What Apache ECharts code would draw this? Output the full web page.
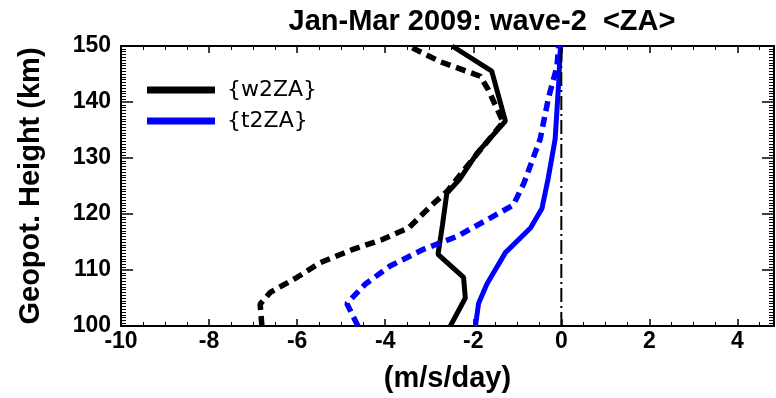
<!DOCTYPE html>
<html>
<head>
<meta charset="utf-8">
<script src="https://cdn.jsdelivr.net/npm/echarts@6/dist/echarts.min.js"></script>
<style>
  html, body { margin: 0; padding: 0; background: #fff; }
  #main { width: 776px; height: 398px; }
</style>
</head>
<body>
<div id="main"></div>
<script>
// 数据
var w2zaHeight = [100, 105, 108.7, 112.8, 118, 123.7, 126.3, 131, 136.6, 145.5, 150];
var w2zaValue  = [-2.52, -2.18, -2.22, -2.8, -2.7, -2.6, -2.3, -1.9, -1.27, -1.58, -2.48];

var w2zaDashHeight = [100, 103.9, 106, 108.7, 111.3, 113.7, 115.4, 117.5, 121.9, 124, 129.9, 136.4, 142.2, 144.6, 147.2, 150];
var w2zaDashValue  = [-6.8, -6.84, -6.61, -6.0, -5.48, -4.73, -4.08, -3.47, -2.9, -2.6, -2.0, -1.32, -1.66, -1.84, -2.75, -3.47];

var t2zaHeight = [100, 104, 107.5, 113.1, 117.5, 121, 126.3, 133.4, 143.4, 150];
var t2zaValue  = [-1.95, -1.88, -1.69, -1.27, -0.7, -0.44, -0.3, -0.14, -0.06, -0.02];

var t2zaDashHeight = [100, 104, 107.5, 110.7, 113.7, 116, 119.3, 121.6, 125.5, 133.4, 140.8, 146.3, 150];
var t2zaDashValue  = [-4.62, -4.87, -4.45, -3.89, -3.13, -2.37, -1.61, -1.09, -0.85, -0.48, -0.29, -0.1, -0.06];

var zeroLineValue  = [0, 0];
var zeroLineHeight = [100, 150];

var xTicks = { min: -10, max: 4.83, interval: 2 };
var yTicks = { min: 100, max: 150, interval: 10 };

function pairs(xs, ys) {
    var out = [];
    for (var i = 0; i < xs.length; i++) {
        out.push([xs[i], ys[i]]);
    }
    return out;
}

var myChart = echarts.init(document.getElementById('main'));
var font = 'Liberation Sans';

function xAxisOf(pos, showLabel) {
    return {
        type: 'value',
        position: pos,
        min: xTicks.min,
        max: xTicks.max,
        interval: xTicks.interval,
        axisLine: { show: true, onZero: false, lineStyle: { color: '#000', width: 2 } },
        axisTick: { show: true, inside: true, length: 7, lineStyle: { color: '#000', width: 1.5 } },
        minorTick: { show: true, splitNumber: 4, length: 4, lineStyle: { color: '#000', width: 1 } },
        axisLabel: {
            show: showLabel, showMaxLabel: false, color: '#000', fontFamily: font,
            fontWeight: 'bold', fontSize: 23, margin: 4
        },
        splitLine: { show: false },
        name: showLabel ? '(m/s/day)' : '',
        nameLocation: 'middle',
        nameGap: 38,
        nameTextStyle: { color: '#000', fontFamily: font, fontWeight: 'bold', fontSize: 29 }
    };
}

function yAxisOf(pos, showLabel) {
    return {
        type: 'value',
        position: pos,
        min: yTicks.min,
        max: yTicks.max,
        interval: yTicks.interval,
        axisLine: { show: true, onZero: false, lineStyle: { color: '#000', width: 2 } },
        axisTick: { show: true, inside: true, length: 12, lineStyle: { color: '#000', width: 1.5 } },
        minorTick: { show: true, splitNumber: 20, length: 5, lineStyle: { color: '#000', width: 1 } },
        axisLabel: {
            show: showLabel, color: '#000', fontFamily: font,
            fontWeight: 'bold', fontSize: 23, margin: 10
        },
        splitLine: { show: false },
        name: showLabel ? 'Geopot. Height (km)' : '',
        nameLocation: 'middle',
        nameGap: 76,
        nameTextStyle: { color: '#000', fontFamily: font, fontWeight: 'bold', fontSize: 29 }
    };
}

var option = {
    animation: false,
    backgroundColor: '#fff',
    title: {
        text: 'Jan-Mar 2009: wave-2  <ZA>',
        left: 477,
        textAlign: 'center',
        top: 2,
        textStyle: { color: '#000', fontFamily: font, fontWeight: 'bold', fontSize: 29 }
    },
    legend: {
        data: ['{w2ZA}', '{t2ZA}'],
        orient: 'vertical',
        left: 142,
        top: 74,
        itemWidth: 68,
        itemHeight: 7,
        itemGap: 9,
        icon: 'rect',
        textStyle: { color: '#000', fontFamily: 'DejaVu Sans', fontSize: 22, padding: [0, 0, 4, 7] }
    },
    grid: { left: 121, right: 2, top: 46, bottom: 69 },
    xAxis: [xAxisOf('bottom', true), xAxisOf('top', false)],
    yAxis: [yAxisOf('left', true), yAxisOf('right', false)],
    series: [
        {
            name: '{w2ZA}', type: 'line', showSymbol: false, symbol: 'none',
            data: pairs(w2zaValue, w2zaHeight),
            lineStyle: { color: '#000', width: 5 }, itemStyle: { color: '#000' }
        },
        {
            name: 'w2ZA dash', type: 'line', showSymbol: false, symbol: 'none',
            data: pairs(w2zaDashValue, w2zaDashHeight),
            lineStyle: { color: '#000', width: 5.5, type: [10, 6] }
        },
        {
            name: '{t2ZA}', type: 'line', showSymbol: false, symbol: 'none',
            data: pairs(t2zaValue, t2zaHeight),
            lineStyle: { color: '#0000ff', width: 5 }, itemStyle: { color: '#0000ff' }
        },
        {
            name: 't2ZA dash', type: 'line', showSymbol: false, symbol: 'none',
            data: pairs(t2zaDashValue, t2zaDashHeight),
            lineStyle: { color: '#0000ff', width: 5.5, type: [10, 6] }
        },
        {
            name: 'zero', type: 'line', showSymbol: false, symbol: 'none',
            data: pairs(zeroLineValue, zeroLineHeight),
            lineStyle: { color: '#000', width: 2, type: [14, 4, 2, 4] }
        }
    ]
};
// 使用刚指定的配置项和数据显示图表。
myChart.setOption(option);
</script>
</body>
</html>
